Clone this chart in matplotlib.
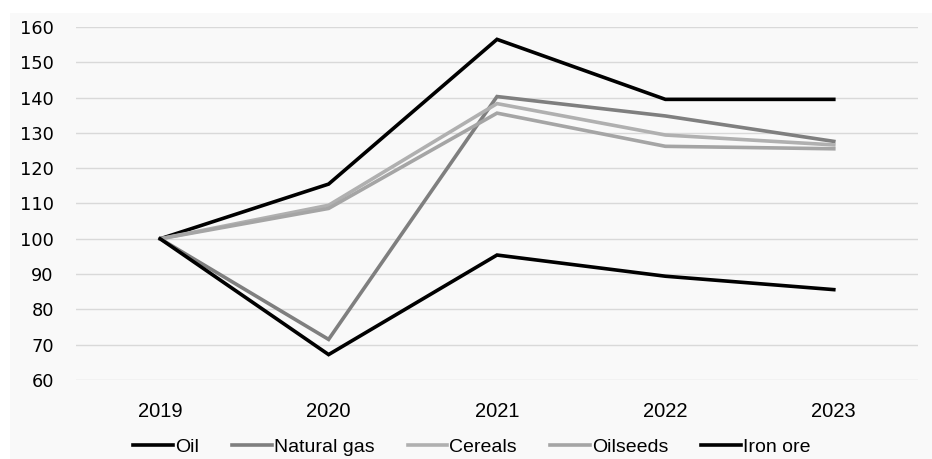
import matplotlib.pyplot as plt
from matplotlib.patches import Rectangle

# данные с графика
years = ['2019', '2020', '2021', '2022', '2023']
oil = [100, 115.5, 156.5, 139.5, 139.5]
natural_gas = [100, 71.5, 140.3, 134.8, 127.6]
cereals = [100, 109.5, 138.3, 129.4, 126.6]
oilseeds = [100, 108.6, 135.6, 126.2, 125.5]
iron_ore = [100, 67.2, 95.4, 89.4, 85.6]

names = ['Oil', 'Natural gas', 'Cereals', 'Oilseeds', 'Iron ore']
series = [oil, natural_gas, cereals, oilseeds, iron_ore]
colors = ['#000000', '#7f7f7f', '#b0b0b0', '#a5a5a5', '#000000']

bg = '#f9f9f9'
fig = plt.figure(figsize=(9.32, 4.59), dpi=100)
fig.patch.set_facecolor('white')
fig.patches.append(Rectangle((10 / 932, 0), 922 / 932, 1 - 13 / 459,
                             transform=fig.transFigure, facecolor=bg,
                             edgecolor='none', zorder=-5))

ax = fig.add_axes([76 / 932, 1 - 380 / 459, 842 / 932, 353 / 459])
ax.set_facecolor(bg)
x = list(range(len(years)))
for name, s, c in zip(names, series, colors):
    ax.plot(x, s, color=c, lw=2.6, label=name, solid_joinstyle='miter')

ax.set_xlim(-0.5, 4.5)
ax.set_ylim(60, 160)
ax.set_yticks(range(60, 161, 10))
ax.set_xticks(x)
ax.set_xticklabels(years, fontfamily='Liberation Sans', fontsize=14.5)
ax.tick_params(axis='x', length=0, pad=16)
ax.tick_params(axis='y', length=0, pad=16, labelsize=12.8)
ax.grid(axis='y', color='#d9d9d9', lw=1)
ax.set_axisbelow(True)
for sp in ax.spines.values():
    sp.set_visible(False)

leg = fig.legend(loc='center', bbox_to_anchor=(472 / 932, 1 - 447 / 459),
                 ncol=5, frameon=False, handlelength=2.05, handletextpad=0.1,
                 columnspacing=1.7, borderpad=0,
                 prop={'family': 'Liberation Sans', 'size': 14})

fig.savefig('out.png', dpi=100, facecolor='white')
